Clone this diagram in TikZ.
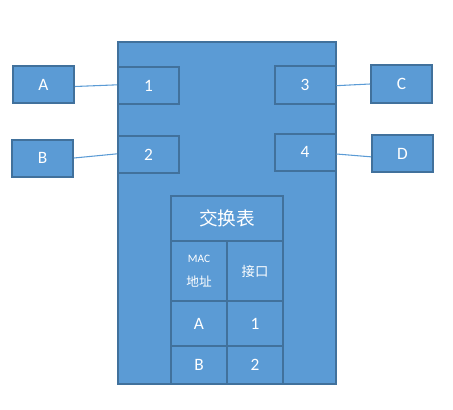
\documentclass[tikz,border=0pt]{standalone}
\usepackage{fontspec}
\setmainfont{Carlito}
\newfontfamily\cjk{Noto Sans CJK SC}
\usetikzlibrary{positioning}
\definecolor{cFill}{HTML}{5B9BD5}
\definecolor{cEdge}{HTML}{41719C}
\tikzset{
  hostbox/.style ={draw=cEdge, fill=cFill, line width=1.5pt, text=white,
                   minimum width=45.75pt, minimum height=27.75pt,
                   inner sep=0pt, font=\fontsize{13}{15}\selectfont},
  portbox/.style ={hostbox},
  swbox/.style   ={draw=cEdge, fill=cFill, line width=1.5pt,
                   minimum width=163.5pt, minimum height=256.5pt, inner sep=0pt},
  cell/.style    ={draw=cEdge, fill=cFill, line width=1.5pt, text=white,
                   minimum width=42pt, inner sep=0pt, align=center,
                   font=\fontsize{13}{15}\selectfont},
  link/.style    ={draw=cFill, line width=0.8pt},
}

\begin{document}
\begin{tikzpicture}[x=0.75pt, y=-0.75pt]
  \useasboundingbox (0,0) rectangle (453,410);

  % switch body
  \node[swbox] (sw) at (227,213) {};

  % ports on the switch
  \node[portbox] (p1) at (148.5,85.5) {1};
  \node[portbox] (p2) at (148.5,154.5) {2};
  \node[portbox] (p3) at (305,85) {3};
  \node[portbox] (p4) at (305,152) {4};

  % hosts
  \node[hostbox] (hA) at (43.5,84.5) {A};
  \node[hostbox] (hB) at (42.5,158) {B};
  \node[hostbox] (hC) at (401.5,84) {C};
  \node[hostbox] (hD) at (402.5,153.5) {D};

  % links
  \draw[link] ([yshift=-1.5pt]hA.east) -- ([yshift=0.5pt]p1.west);
  \draw[link] (hB.east) -- ([yshift=0.5pt]p2.west);
  \draw[link] ([yshift=-0.5pt]p3.east) -- (hC.west);
  \draw[link] ([yshift=-1.5pt]p4.east) -- ([yshift=-2.5pt]hD.west);

  % switching table
  \node[cell, minimum width=84pt, minimum height=33.75pt] (thead) at (227,218.5)
    {\cjk\fontsize{14}{16}\selectfont 交换表};
  \node[cell, minimum height=45pt] (tmac) at (199,271)
    {{\fontsize{8.5}{10}\selectfont MAC}\\[3pt]{\cjk\fontsize{9.5}{11}\selectfont 地址}};
  \node[cell, minimum height=45pt] (tport) at (255,271)
    {\cjk\fontsize{10}{12}\selectfont 接口};
  \node[cell, minimum height=33.75pt] (tA) at (199,323.5) {A};
  \node[cell, minimum height=33.75pt] (t1) at (255,323.5) {1};
  \node[cell, minimum height=28.5pt] (tB) at (199,365) {B};
  \node[cell, minimum height=28.5pt] (t2) at (255,365) {2};

\end{tikzpicture}
\end{document}
